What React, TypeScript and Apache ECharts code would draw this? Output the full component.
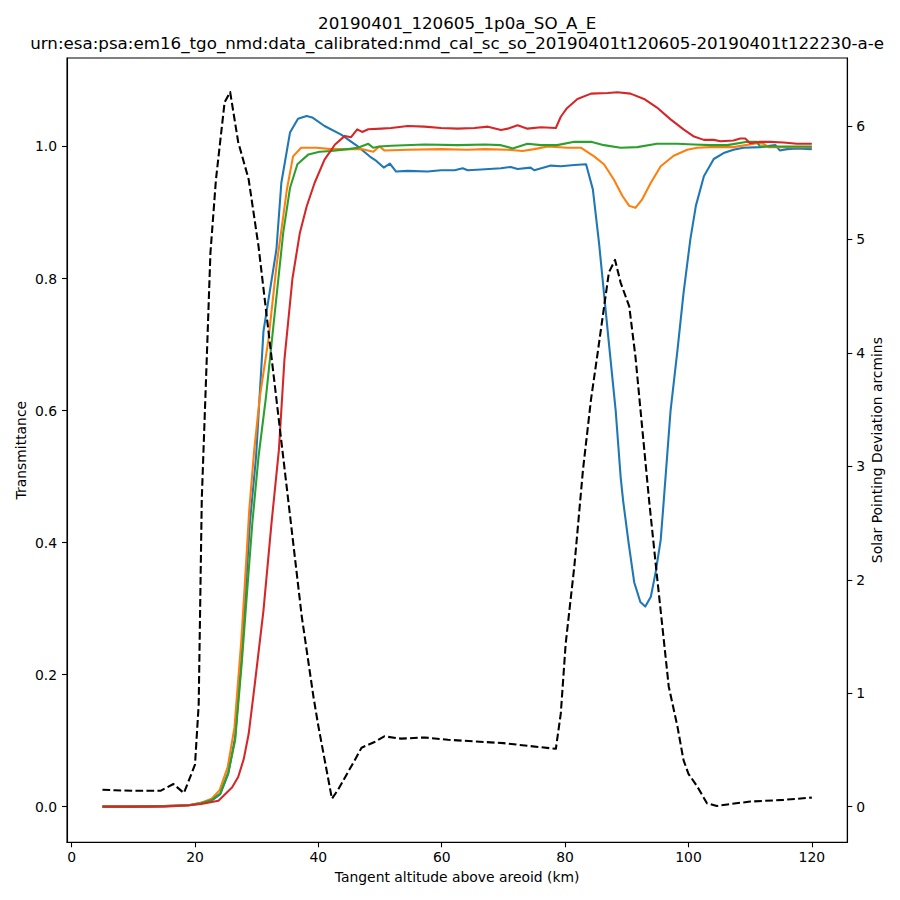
import React, { useEffect, useRef } from "react";
import * as echarts from "echarts";

const titleLine1 = "20190401_120605_1p0a_SO_A_E";
const titleLine2 =
  "urn:esa:psa:em16_tgo_nmd:data_calibrated:nmd_cal_sc_so_20190401t120605-20190401t122230-a-e";
const xLabel = "Tangent altitude above areoid (km)";
const yLeftLabel = "Transmittance";
const yRightLabel = "Solar Pointing Deviation arcmins";

const xTicks = [0, 20, 40, 60, 80, 100, 120];
const yLeftTicks = [0, 0.2, 0.4, 0.6, 0.8, 1.0];
const yRightTicks = [0, 1, 2, 3, 4, 5, 6];

// [altitude km, transmittance]
const blueSeries = [
  [5, 0.0], [10, 0.0], [15, 0.001], [19, 0.002], [21, 0.006], [22.7, 0.009], [24.1, 0.019],
  [25.4, 0.05], [26.5, 0.105], [27.6, 0.23], [28.1, 0.31], [28.9, 0.43], [29.9, 0.53],
  [31.1, 0.72], [33.2, 0.844], [34.0, 0.945], [35.4, 1.021], [36.7, 1.042], [38.1, 1.046],
  [39.0, 1.044], [41.0, 1.031], [43.7, 1.018], [46.4, 1.0], [48.6, 0.983], [49.4, 0.978],
  [50.6, 0.968], [51.6, 0.974], [52.6, 0.962], [54.5, 0.963], [57.7, 0.962], [59.9, 0.964],
  [62.1, 0.964], [63.4, 0.967], [64.2, 0.964], [66.4, 0.965], [69.6, 0.967], [71.2, 0.969],
  [72.3, 0.966], [74.4, 0.968], [75.0, 0.964], [77.7, 0.971], [79.3, 0.970], [81.5, 0.972],
  [83.4, 0.973], [84.5, 0.935], [85.5, 0.854], [86.3, 0.778], [87.1, 0.702], [88.2, 0.6],
  [89.0, 0.5], [89.4, 0.464], [90.3, 0.399], [91.2, 0.34], [92.2, 0.31], [93.0, 0.303],
  [93.9, 0.318], [94.7, 0.356], [95.5, 0.404], [96.0, 0.464], [97.1, 0.6], [98.2, 0.69],
  [99.2, 0.778], [100.3, 0.859], [101.2, 0.91], [102.5, 0.955], [104.1, 0.981], [105.7, 0.99],
  [107.3, 0.995], [108.9, 0.998], [111.6, 0.999], [114.1, 1.002], [114.8, 0.994], [116.0, 0.996],
  [117.6, 0.997], [120, 0.996],
];

const orangeSeries = [
  [5, 0.0], [10, 0.0], [15, 0.001], [19, 0.002], [21, 0.006], [22.7, 0.012], [24.0, 0.025],
  [25.3, 0.06], [26.4, 0.12], [27.5, 0.25], [28.1, 0.34], [28.8, 0.45], [29.6, 0.54],
  [30.5, 0.62], [31.9, 0.707], [33.2, 0.818], [34.9, 0.935], [35.9, 0.985], [37.2, 0.998],
  [39.7, 0.998], [42.1, 0.996], [47.0, 0.996], [48.9, 0.992], [49.9, 1.0], [50.7, 0.994],
  [54.5, 0.995], [59.9, 0.996], [64.2, 0.995], [67.0, 0.996], [70.7, 0.995], [73.1, 0.993],
  [75.0, 0.996], [77.2, 1.0], [80.4, 0.998], [82.6, 0.998], [83.4, 0.993], [84.7, 0.985],
  [86.3, 0.973], [87.9, 0.95], [89.3, 0.925], [90.4, 0.91], [91.4, 0.907], [92.5, 0.92],
  [93.9, 0.945], [95.5, 0.97], [97.6, 0.986], [99.8, 0.995], [101.4, 0.998], [103.6, 0.999],
  [107.3, 0.999], [111.1, 1.005], [112.2, 1.004], [113.0, 0.999], [117.1, 0.999], [120, 0.999],
];

const greenSeries = [
  [5, 0.0], [10, 0.0], [15, 0.001], [19, 0.002], [21, 0.005], [22.7, 0.01], [24.1, 0.02],
  [25.4, 0.052], [26.5, 0.1], [27.6, 0.22], [28.4, 0.32], [29.3, 0.43], [30.3, 0.53],
  [31.5, 0.62], [32.7, 0.727], [34.3, 0.869], [35.4, 0.937], [36.6, 0.973], [38.4, 0.988],
  [40.2, 0.992], [42.1, 0.993], [44.8, 0.996], [46.4, 0.998], [48.1, 1.004], [48.9, 0.998],
  [49.9, 1.0], [51.8, 1.001], [57.2, 1.003], [62.6, 1.002], [67.0, 1.003], [69.6, 1.002],
  [71.5, 0.997], [73.9, 1.004], [76.1, 1.002], [78.7, 1.002], [81.5, 1.007], [84.2, 1.007],
  [86.3, 1.002], [89.0, 0.998], [91.7, 0.999], [94.9, 1.004], [98.2, 1.004], [100.9, 1.003],
  [103.6, 1.002], [106.3, 1.002], [109.5, 1.007], [111.1, 1.007], [111.6, 1.0], [113.8, 1.0],
  [120, 1.0],
];

const redSeries = [
  [5, 0.0], [10, 0.0], [15, 0.0], [19, 0.002], [21, 0.004], [23.8, 0.009], [26.0, 0.029],
  [27.0, 0.045], [27.9, 0.072], [28.7, 0.11], [29.7, 0.186], [31.1, 0.297], [32.4, 0.429],
  [33.6, 0.54], [34.5, 0.677], [35.8, 0.8], [37.0, 0.869], [38.1, 0.909], [39.4, 0.945],
  [41.0, 0.98], [42.7, 1.003], [44.3, 1.016], [45.3, 1.014], [46.3, 1.026], [47.1, 1.022],
  [48.1, 1.026], [50.2, 1.027], [51.8, 1.028], [54.5, 1.031], [57.2, 1.03], [59.9, 1.028],
  [62.6, 1.027], [65.3, 1.028], [67.5, 1.03], [69.6, 1.025], [70.7, 1.027], [72.3, 1.032],
  [73.9, 1.027], [76.1, 1.029], [78.5, 1.028], [79.3, 1.045], [80.3, 1.058], [82.0, 1.072],
  [84.2, 1.08], [86.9, 1.081], [88.5, 1.082], [90.6, 1.08], [92.8, 1.072], [94.9, 1.059],
  [97.1, 1.041], [99.2, 1.026], [100.9, 1.015], [102.5, 1.01], [104.1, 1.01], [105.2, 1.008],
  [107.3, 1.009], [108.4, 1.012], [109.2, 1.012], [110.0, 1.005], [111.6, 1.007], [113.2, 1.007],
  [115.4, 1.006], [117.6, 1.004], [120, 1.004],
];

// [altitude km, solar pointing deviation arcmin]
const deviationSeries = [
  [5, 0.15], [7, 0.145], [10, 0.14], [14.4, 0.14], [16.5, 0.2], [18.2, 0.12], [20.0, 0.37],
  [20.6, 0.9], [21.1, 2.71], [21.9, 3.94], [22.5, 4.88], [23.4, 5.53], [24.8, 6.21],
  [25.7, 6.3], [27.0, 5.86], [28.7, 5.53], [30.3, 4.94], [35.1, 2.71], [37.3, 1.68],
  [39.2, 0.97], [40.0, 0.71], [42.2, 0.07], [43.2, 0.15], [45.9, 0.41], [47.0, 0.52],
  [49.1, 0.57], [50.7, 0.62], [53.4, 0.6], [57.2, 0.61], [61.0, 0.59], [70.0, 0.56],
  [78.5, 0.51], [79.3, 0.82], [80.1, 1.44], [81.5, 2.12], [82.9, 2.97], [84.2, 3.59],
  [85.2, 3.97], [87.1, 4.71], [88.1, 4.82], [89.0, 4.62], [90.4, 4.41], [91.4, 3.97],
  [93.6, 2.71], [94.9, 2.03], [96.0, 1.47], [96.8, 1.06], [98.2, 0.71], [99.2, 0.41],
  [100.0, 0.29], [101.4, 0.18], [103.0, 0.03], [104.6, 0.006], [106.3, 0.02], [110.0, 0.045],
  [115.4, 0.06], [120, 0.08],
];

const FONT = "DejaVu Sans";

export default function App() {
  const ref = useRef<HTMLDivElement>(null);

  useEffect(() => {
    if (!ref.current) return;
    const chart = echarts.init(ref.current, undefined, { renderer: "svg" });
    const gridLeft = 67;
    const gridRight = 847.3;
    const gridTop = 58;
    const gridBottom = 842.3;
    const cx = (gridLeft + gridRight) / 2;
    const tickStyle = { color: "#000", width: 1.1 };
    const labelStyle = { color: "#000", fontSize: 13.9, fontFamily: FONT };

    const lineSeries = (data: number[][], color: string, yAxisIndex = 0, dashed = false) => ({
      type: "line",
      data,
      yAxisIndex,
      showSymbol: false,
      symbol: "none",
      silent: true,
      lineStyle: {
        color,
        width: 2.08,
        type: dashed ? [7.7, 3.3] : "solid",
        cap: "butt",
        join: "round",
      },
    });

    chart.setOption({
      animation: false,
      backgroundColor: "#fff",
      grid: {
        left: gridLeft,
        right: 900 - gridRight,
        top: gridTop,
        bottom: 900 - gridBottom,
        show: true,
        borderColor: "#000",
        borderWidth: 1.1,
        backgroundColor: "transparent",
      },
      xAxis: {
        type: "value",
        min: -0.75,
        max: 125.75,
        splitLine: { show: false },
        axisLine: { show: true, onZero: false, lineStyle: tickStyle },
        axisTick: { show: true, length: 5, lineStyle: tickStyle, customValues: xTicks },
        axisLabel: { ...labelStyle, margin: 8, customValues: xTicks, formatter: (v: number) => String(v) },
      },
      yAxis: [
        {
          type: "value",
          position: "left",
          min: -0.054,
          max: 1.134,
          splitLine: { show: false },
          axisLine: { show: true, onZero: false, lineStyle: tickStyle },
          axisTick: { show: true, length: 5, lineStyle: tickStyle, customValues: yLeftTicks },
          axisLabel: {
            ...labelStyle,
            margin: 10,
            customValues: yLeftTicks,
            formatter: (v: number) => v.toFixed(1),
          },
        },
        {
          type: "value",
          position: "right",
          min: -0.314,
          max: 6.6,
          splitLine: { show: false },
          axisLine: { show: true, onZero: false, lineStyle: tickStyle },
          axisTick: { show: true, length: 5, lineStyle: tickStyle, customValues: yRightTicks },
          axisLabel: {
            ...labelStyle,
            margin: 9,
            customValues: yRightTicks,
            formatter: (v: number) => String(v),
          },
        },
      ],
      graphic: [
        {
          type: "text",
          x: cx,
          y: 23,
          style: {
            text: titleLine1,
            fill: "#000",
            font: `16.7px ${FONT}`,
            textAlign: "center",
            textVerticalAlign: "middle",
          },
        },
        {
          type: "text",
          x: cx,
          y: 43,
          style: {
            text: titleLine2,
            fill: "#000",
            font: `16.7px ${FONT}`,
            textAlign: "center",
            textVerticalAlign: "middle",
          },
        },
        {
          type: "text",
          x: cx,
          y: 877,
          style: {
            text: xLabel,
            fill: "#000",
            font: `13.9px ${FONT}`,
            textAlign: "center",
            textVerticalAlign: "middle",
          },
        },
        {
          type: "text",
          x: 21,
          y: (gridTop + gridBottom) / 2,
          rotation: Math.PI / 2,
          style: {
            text: yLeftLabel,
            fill: "#000",
            font: `13.9px ${FONT}`,
            textAlign: "center",
            textVerticalAlign: "middle",
          },
        },
        {
          type: "text",
          x: 877,
          y: (gridTop + gridBottom) / 2,
          rotation: Math.PI / 2,
          style: {
            text: yRightLabel,
            fill: "#000",
            font: `13.9px ${FONT}`,
            textAlign: "center",
            textVerticalAlign: "middle",
          },
        },
      ],
      series: [
        lineSeries(blueSeries, "#1f77b4"),
        lineSeries(orangeSeries, "#ff7f0e"),
        lineSeries(greenSeries, "#2ca02c"),
        lineSeries(redSeries, "#d62728"),
        lineSeries(deviationSeries, "#000000", 1, true),
      ],
    });

    return () => {
      chart.dispose();
    };
  }, []);

  return (
    <div
      ref={ref}
      style={{ position: "fixed", left: 0, top: 0, width: 900, height: 900, background: "#fff" }}
    />
  );
}
